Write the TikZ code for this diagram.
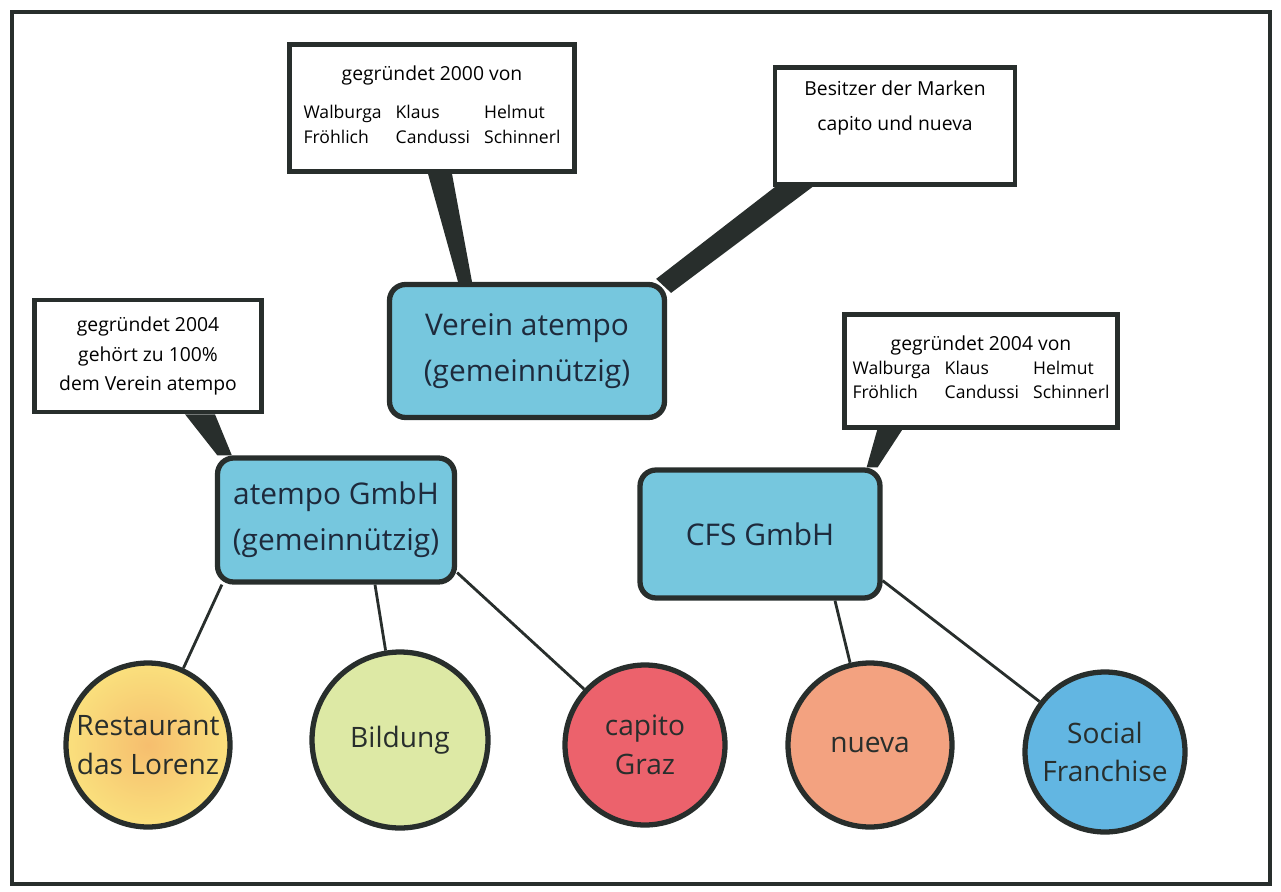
\documentclass[tikz,border=0pt]{standalone}
\usepackage{fontspec}
\setmainfont{Open Sans}
\usepackage{tikz}

\definecolor{ink}{RGB}{40,46,44}
\definecolor{pen}{RGB}{30,42,60}
\definecolor{boxblue}{RGB}{118,199,222}
\definecolor{sunny}{RGB}{250,224,125}
\definecolor{sunnycore}{RGB}{246,190,110}
\definecolor{leaf}{RGB}{221,233,165}
\definecolor{berry}{RGB}{236,98,108}
\definecolor{peach}{RGB}{243,162,128}
\definecolor{sky}{RGB}{98,182,226}

\newcommand{\founders}{\fontsize{10}{14}\selectfont\setlength{\tabcolsep}{4pt}%
  \begin{tabular}{@{}lll@{}}Walburga & Klaus & Helmut\\ Fröhlich & Candussi & Schinnerl\end{tabular}}

\tikzset{
  callout/.style={draw=ink, line width=2.6pt, fill=white, align=center,
    inner sep=2pt, font=\fontsize{11}{17}\selectfont},
  company/.style={draw=ink, line width=3pt, fill=boxblue, rounded corners=0.32cm,
    align=center, text=pen, font=\fontsize{17}{26}\selectfont},
  unit/.style={circle, draw=ink, line width=3pt, align=center, inner sep=0pt,
    text=ink, font=\fontsize{16}{22}\selectfont},
  tail/.style={fill=ink},
  link/.style={draw=ink, line width=1.6pt}
}

\begin{document}
\begin{tikzpicture}[x=0.02cm, y=-0.02cm]
        \useasboundingbox (0,0) rectangle (1281,892);
        \draw[ink, line width=2.4pt] (12,12) rectangle (1270,884);

        % callouts
        \node[callout, minimum width=5.7cm, minimum height=2.54cm] (gruendung) at (432,108)
          {gegründet 2000 von\\[3mm] \founders};
        \node[callout, minimum width=4.8cm, minimum height=2.34cm] (marken) at (895,126)
          {Besitzer der Marken\\[1mm] capito und nueva\\[2mm]};
        \node[callout, minimum width=4.54cm, minimum height=2.24cm] (gmbhinfo) at (148,356)
          {gegründet 2004\\ gehört zu 100\%\\ dem Verein atempo};
        \node[callout, minimum width=5.46cm, minimum height=2.26cm] (cfsinfo) at (981,371)
          {gegründet 2004 von\\ \founders};

        % companies
        \node[company, minimum width=5.5cm, minimum height=2.66cm] (verein) at (527,351)
          {Verein atempo\\ (gemeinnützig)};
        \node[company, minimum width=4.74cm, minimum height=2.48cm] (atempo) at (336,520)
          {atempo GmbH\\ (gemeinnützig)};
        \node[company, minimum width=4.8cm, minimum height=2.56cm] (cfs) at (760,534)
          {CFS GmbH};

        % units
        \node[unit, minimum size=3.28cm, inner color=sunnycore, outer color=sunny] (lorenz) at (148,745)
          {Restaurant\\ das Lorenz};
        \node[unit, minimum size=3.52cm, fill=leaf] (bildung) at (400,740) {Bildung};
        \node[unit, minimum size=3.2cm, fill=berry] (capito) at (645,745) {capito\\ Graz};
        \node[unit, minimum size=3.28cm, fill=peach] (nueva) at (870,745) {nueva};
        \node[unit, minimum size=3.2cm, fill=sky] (social) at (1105,752) {Social\\ Franchise};

        % callout tails
        \fill[tail] ([xshift=-0.08cm]gruendung.south) -- ([xshift=0.4cm]gruendung.south)
          -- ([xshift=-1.1cm]verein.north) -- ([xshift=-1.38cm]verein.north) -- cycle;
        \fill[tail] ([xshift=0.05cm]marken.south west) -- ([xshift=0.8cm]marken.south west)
          -- ([xshift=0.08cm,yshift=-0.22cm]verein.north east) -- ([xshift=-0.22cm,yshift=0.06cm]verein.north east) -- cycle;
        \fill[tail] ([xshift=0.74cm]gmbhinfo.south) -- ([xshift=1.34cm]gmbhinfo.south)
          -- ([xshift=0.34cm]atempo.north west) -- ([xshift=0.05cm]atempo.north west) -- cycle;
        \fill[tail] ([xshift=0.7cm]cfsinfo.south west) -- ([xshift=1.2cm]cfsinfo.south west)
          -- ([xshift=-0.1cm]cfs.north east) -- ([xshift=-0.32cm]cfs.north east) -- cycle;

        % links
        \draw[link] ([xshift=0.14cm]atempo.south west) -- (lorenz);
        \draw[link] ([xshift=0.78cm]atempo.south) -- (bildung);
        \draw[link] ([yshift=0.24cm]atempo.south east) -- (capito);
        \draw[link] ([xshift=1.5cm]cfs.south) -- (nueva);
        \draw[link] ([yshift=0.4cm]cfs.south east) -- (social);
      \end{tikzpicture}
\end{document}
